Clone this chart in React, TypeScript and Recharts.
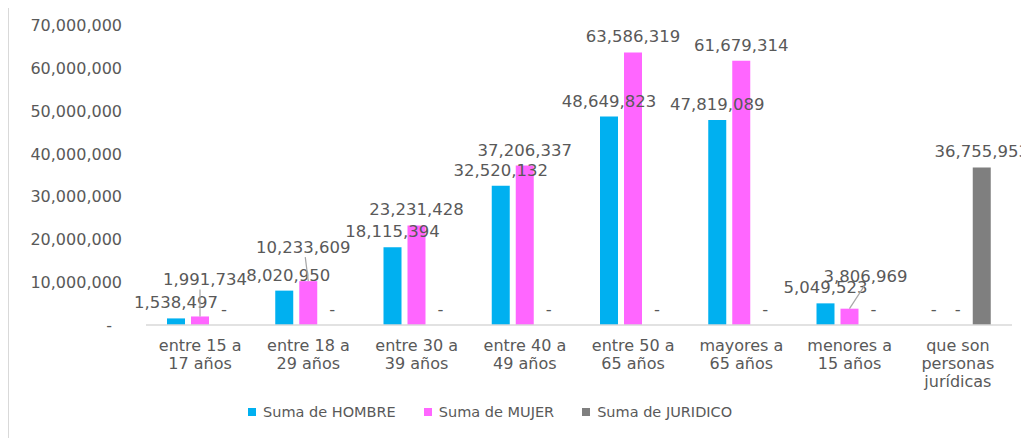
import { BarChart, Bar, XAxis, YAxis, Legend, Text } from 'recharts'

const categories = [
  'entre 15 a 17 años',
  'entre 18 a 29 años',
  'entre 30 a 39 años',
  'entre 40 a 49 años',
  'entre 50 a 65 años',
  'mayores a 65 años',
  'menores a 15 años',
  'que son personas jurídicas'
]
const hombre = [1538497, 8020950, 18115394, 32520132, 48649823, 47819089, 5049523, 0]
const mujer = [1991734, 10233609, 23231428, 37206337, 63586319, 61679314, 3806969, 0]
const juridico = [0, 0, 0, 0, 0, 0, 0, 36755953]
const yTicks = [0, 10000000, 20000000, 30000000, 40000000, 50000000, 60000000, 70000000]

const series = [
  { key: 'hombre', name: 'Suma de HOMBRE', color: '#00B0F0' },
  { key: 'mujer', name: 'Suma de MUJER', color: '#FF66FF' },
  { key: 'juridico', name: 'Suma de JURIDICO', color: '#7F7F7F' }
]

const data = categories.map((name, i) => ({
  name,
  hombre: hombre[i],
  mujer: mujer[i],
  juridico: juridico[i]
}))

const font = '"DejaVu Sans", sans-serif'
const textColor = '#595959'

type Shift = { dx: number; dy: number; lx?: number }
// Excel moved a few labels up and joined them to their bar with a leader line
const labelShifts: Record<string, Record<number, Shift>> = {
  hombre: { 1: { dx: 4, dy: 0 } },
  mujer: {
    0: { dx: 5, dy: -21, lx: 0 },
    1: { dx: -5, dy: -18, lx: -3 },
    6: { dx: 16, dy: -17, lx: 15 }
  },
  juridico: {}
}

const fmt = (v: number) => (v === 0 ? '-' : v.toLocaleString('en-US'))

const makeLabel = (key: string) => (props: any) => {
  const { x, y, width, value, index } = props
  const s = labelShifts[key][index] || { dx: 0, dy: 0 }
  const cx = Number(x) + Number(width) / 2
  const center = Number(y) - 16 + s.dy
  return (
    <g>
      <text
        x={cx + s.dx}
        y={center + 6}
        textAnchor="middle"
        fill={textColor}
        fontSize={16.5}
        fontFamily={font}
      >
        {fmt(Number(value))}
      </text>
      {s.lx !== undefined && (
        <line x1={cx + s.lx} y1={center + 10} x2={cx} y2={Number(y)} stroke="#a6a6a6" strokeWidth={1.2} />
      )}
    </g>
  )
}

const CategoryTick = (props: any) => {
  const { x, y, payload } = props
  return (
    <Text
      x={x}
      y={y}
      width={92}
      textAnchor="middle"
      verticalAnchor="start"
      lineHeight={18}
      fill={textColor}
      style={{ fontSize: 16, fontFamily: font }}
    >
      {payload.value}
    </Text>
  )
}

const ValueTick = (props: any) => {
  const { x, y, payload } = props
  const zero = payload.value === 0
  return (
    <text
      x={zero ? x - 10 : x}
      y={y + 6}
      textAnchor="end"
      fill={textColor}
      fontSize={16}
      fontFamily={font}
    >
      {fmt(payload.value)}
    </text>
  )
}

const LegendContent = () => (
  <div style={{ display: 'flex', height: 20, alignItems: 'center', fontFamily: font, fontSize: 14.5, color: textColor }}>
    {series.map((s) => (
      <div key={s.key} style={{ display: 'flex', alignItems: 'center', marginRight: 28 }}>
        <span style={{ width: 8, height: 8, background: s.color, marginRight: 7 }} />
        <span>{s.name}</span>
      </div>
    ))}
  </div>
)

export default function App() {
  return (
    <div
      style={{
        marginTop: -1,
        width: 1020,
        height: 430,
        borderTop: '1px solid #d9d9d9',
        borderLeft: '1px solid #d9d9d9',
        background: '#fff'
      }}
    >
      <BarChart
        width={1020}
        height={430}
        data={data}
        margin={{ top: 17, right: 17, bottom: 16, left: 0 }}
        barSize={18}
        barGap={6}
      >
        <XAxis
          dataKey="name"
          height={77}
          tick={<CategoryTick />}
          tickLine={false}
          tickSize={0}
          tickMargin={15}
          axisLine={{ stroke: '#d9d9d9', strokeWidth: 1.5 }}
          interval={0}
        />
        <YAxis
          width={137}
          domain={[0, 70000000]}
          ticks={yTicks}
          tick={<ValueTick />}
          axisLine={false}
          tickLine={false}
          tickSize={0}
          tickMargin={24}
        />
        <Legend
          verticalAlign="bottom"
          align="left"
          content={<LegendContent />}
          wrapperStyle={{ left: 239, width: 700 }}
        />
        {series.map((s) => (
          <Bar
            key={s.key}
            dataKey={s.key}
            name={s.name}
            fill={s.color}
            minPointSize={0.01}
            isAnimationActive={false}
            label={makeLabel(s.key)}
          />
        ))}
      </BarChart>
    </div>
  )
}
